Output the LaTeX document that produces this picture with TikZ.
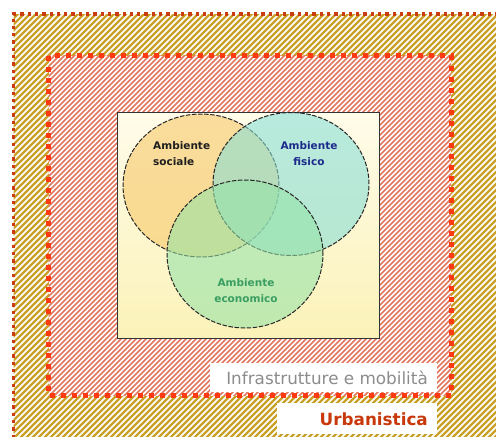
\documentclass[tikz,border=0pt]{standalone}
\usepackage{fontspec}
\setmainfont{DejaVu Sans}
\usetikzlibrary{shapes.geometric}

\definecolor{gold}{HTML}{C9A128}
\definecolor{salmon}{HTML}{E2775F}
\definecolor{dotdark}{HTML}{C83C10}
\definecolor{dotbright}{HTML}{FF3A10}
\definecolor{boxtop}{HTML}{FFFCEA}
\definecolor{boxbot}{HTML}{FBF2B8}
\definecolor{socfill}{HTML}{F7C766}
\definecolor{fisfill}{HTML}{86DED6}
\definecolor{ecofill}{HTML}{96E3A8}
\definecolor{soctext}{HTML}{1E1E1E}
\definecolor{fistext}{HTML}{1C2A8C}
\definecolor{ecotext}{HTML}{3A9E62}
\definecolor{infratext}{HTML}{8C8C8C}
\definecolor{urbtext}{HTML}{C8380A}

\tikzset{
  venn/.style={ellipse, draw=black!85, dash pattern=on 4.5pt off 1.6pt,
               line width=1pt, fill opacity=0.58,
               inner sep=0pt, minimum width=156pt, minimum height=143pt},
  vennlabel/.style={font=\fontsize{10.5}{16}\selectfont\bfseries,
                    inner sep=0pt, align=center},
  tagbox/.style={fill=white, inner sep=0pt, anchor=north west},
}

\begin{document}
\begin{tikzpicture}[x=1pt, y=-1pt]
  \useasboundingbox (0,0) rectangle (496,437);
  \clip (0,0) rectangle (496,437);
  \fill[white] (0,0) rectangle (496,437);

  % outer band: gold diagonal hatching
  \begin{scope}
    \clip (13.5,14) rectangle (500,440);
    \foreach \a in {-450,-444,...,510}
      \draw[gold, line width=2.2pt] (\a,440) -- (\a+440,0);
  \end{scope}

  % inner area: salmon diagonal hatching
  \fill[white] (48.5,55.5) rectangle (451,395.5);
  \begin{scope}
    \clip (48.5,55.5) rectangle (451,395.5);
    \foreach \a in {-400,-395,...,460}
      \draw[salmon, line width=1.5pt] (\a,400) -- (\a+400,0);
  \end{scope}

  % dotted frames
  \draw[dotdark, line width=3.3pt, dash pattern=on 3.3pt off 4pt]
    (520,14) -- (13.5,14) -- (13.5,460);
  \draw[dotbright, line width=5pt, dash pattern=on 5pt off 6pt]
    (48.5,55.5) rectangle (451,395.5);

  % Venn panel
  \node[draw=black!80, line width=0.7pt, top color=boxtop, bottom color=boxbot,
        minimum width=262pt, minimum height=226pt, inner sep=0pt, anchor=north west]
    (panel) at (117,112) {};

  \node[venn, fill=socfill] (soc) at (201,185.5) {};
  \node[venn, fill=fisfill] (fis) at (291,184) {};
  \node[venn, fill=ecofill, minimum height=148pt] (eco) at (245,254) {};

  \node[vennlabel, align=left, anchor=west, text=soctext] (soct) at (153,154)
    {Ambiente\\sociale};
  \node[vennlabel, text=fistext] (fist) at (309,154) {Ambiente\\fisico};
  \node[vennlabel, text=ecotext] (ecot) at (246,291) {Ambiente\\economico};

  % caption tags
  \node[tagbox, minimum width=227pt, minimum height=29pt] (infrabox) at (210,363) {};
  \node[font=\fontsize{16.8}{18}\selectfont, text=infratext, inner sep=0pt,
        anchor=east] (infra) at (428,377.5) {Infrastrutture e mobilità};

  \node[tagbox, minimum width=160pt, minimum height=31pt] (urbbox) at (277,403) {};
  \node[font=\fontsize{16.8}{18}\selectfont\bfseries, text=urbtext, inner sep=0pt,
        anchor=east] (urb) at (428,419) {Urbanistica};
\end{tikzpicture}
\end{document}
